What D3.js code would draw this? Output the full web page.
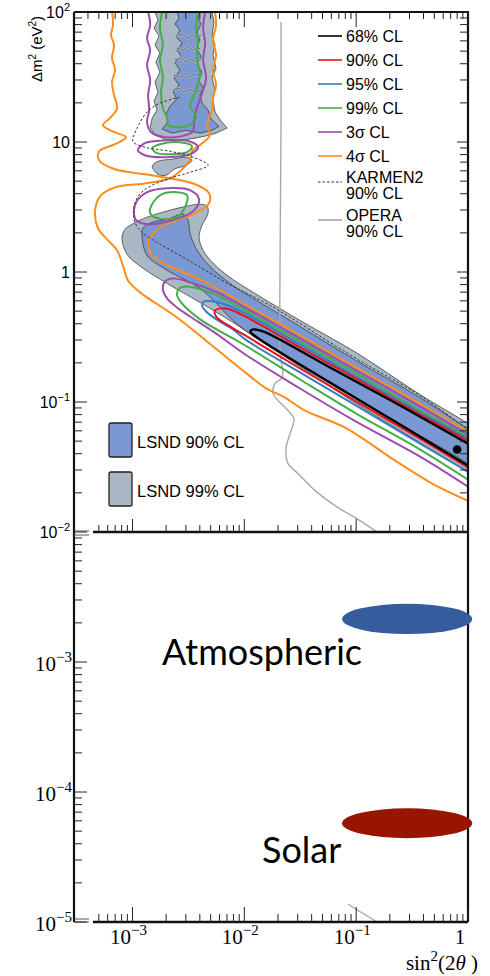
<!DOCTYPE html>
<html>
<head>
<meta charset="utf-8">
<script src="https://cdn.jsdelivr.net/npm/d3@7"></script>
<style>
  html, body { margin: 0; padding: 0; background: #fff; }
  svg { display: block; }
</style>
</head>
<body>
<svg id="chart" width="490" height="976"></svg>
<script>
// ---------- allowed regions and exclusion contours, [sin^2(2θ), Δm^2 (eV^2)] ----------
const lsnd99Upper = [[1.59e-3,100],[1.69e-3,86.7],[1.56e-3,75.4],[1.73e-3,65.3],[1.59e-3,55.7],[1.76e-3,48.3],[1.62e-3,41.2],[1.76e-3,34.5],[1.59e-3,28.9],[1.69e-3,24.2],[1.56e-3,20.6],[1.66e-3,17.6],[1.50e-3,15.3],[1.44e-3,13.0],[1.59e-3,11.3],[1.95e-3,10.5],[2.66e-3,10.3],[3.63e-3,10.7],[4.46e-3,11.1],[5.59e-3,11.7],[7.02e-3,12.8],[6.19e-3,14.5],[5.47e-3,17.0],[5.25e-3,21.0],[5.47e-3,25.1],[5.15e-3,31.0],[5.59e-3,37.1],[5.25e-3,46.7],[5.47e-3,55.7],[5.15e-3,66.5],[5.36e-3,83.8],[5.15e-3,100]];
const lsnd99Island = [[1.50e-3,6.51],[1.69e-3,7.11],[2.26e-3,7.37],[3.01e-3,7.64],[3.41e-3,7.24],[3.01e-3,6.63],[2.35e-3,6.17],[2.00e-3,5.55],[1.69e-3,5.65]];
const lsnd99Lower = [[8.05e-4,1.81],[8.57e-4,2.13],[1.03e-3,2.37],[1.35e-3,2.64],[2.17e-3,2.99],[3.01e-3,3.20],[4.02e-3,3.32],[4.65e-3,3.20],[4.74e-3,2.83],[4.19e-3,2.29],[3.94e-3,1.85],[4.28e-3,1.47],[5.36e-3,1.15],[7.45e-3,0.908],[1.02e-2,0.761],[3.15e-2,0.424],[0.1,0.240],[0.373,0.114],[1,0.0682],[1.3,0.058],[1.3,0.024],[1,0.0286],[0.373,0.0487],[0.1,0.0973],[3.15e-2,0.187],[1.38e-2,0.297],[7.93e-3,0.409],[4.02e-3,0.583],[2.04e-3,0.817],[1.24e-3,1.07],[8.93e-4,1.37]];

const lsnd90Upper = [[2.50e-3,100],[2.61e-3,89.9],[2.40e-3,80.8],[2.66e-3,72.6],[2.45e-3,64.2],[2.77e-3,57.7],[2.50e-3,50.9],[2.72e-3,45.8],[2.40e-3,40.5],[2.66e-3,35.7],[2.35e-3,31.0],[2.61e-3,27.4],[2.31e-3,24.2],[2.50e-3,21.4],[2.17e-3,18.9],[2.00e-3,16.4],[2.08e-3,14.2],[1.84e-3,12.6],[2.26e-3,11.7],[3.01e-3,12.3],[4.02e-3,11.7],[5.15e-3,12.3],[5.94e-3,13.2],[5.04e-3,15.0],[4.74e-3,17.6],[4.19e-3,19.9],[4.02e-3,23.0],[4.28e-3,26.4],[3.86e-3,29.9],[4.19e-3,34.5],[3.78e-3,39.7],[4.10e-3,45.8],[3.70e-3,52.8],[4.02e-3,60.8],[3.78e-3,70.2],[4.10e-3,80.8],[3.86e-3,89.9],[4.02e-3,100]];
const lsnd90Lower = [[1.22e-3,1.85],[1.24e-3,2.17],[1.50e-3,2.41],[2.04e-3,2.54],[2.83e-3,2.78],[3.14e-3,2.50],[3.27e-3,1.98],[3.78e-3,1.47],[4.94e-3,1.10],[7.45e-3,0.817],[1.02e-2,0.684],[3.15e-2,0.381],[0.1,0.208],[0.373,0.108],[1,0.0624],[1.3,0.055],[1.3,0.028],[1,0.0336],[0.373,0.0551],[0.1,0.106],[3.15e-2,0.191],[1.25e-2,0.313],[1.08e-2,0.343],[7.93e-3,0.424],[4.02e-3,0.748],[2.04e-3,1.03],[1.35e-3,1.34]];

// narrow 99% gaps crossing the 90% region at high Δm^2
const lsndGaps = [
  [[2.45e-3,65.3],[2.77e-3,67.7],[3.08e-3,63.1],[3.41e-3,66.5],[3.78e-3,63.1],[4.10e-3,66.5]],
  [[2.50e-3,52.8],[2.83e-3,50.9],[3.14e-3,54.7],[3.48e-3,50.9],[3.86e-3,53.7],[4.02e-3,51.9]],
  [[2.40e-3,42.7],[2.72e-3,44.3],[3.01e-3,41.2],[3.34e-3,43.5],[3.70e-3,41.2],[4.10e-3,43.5]],
  [[2.35e-3,32.7],[2.66e-3,31.6],[2.95e-3,33.9],[3.27e-3,31.6],[3.63e-3,33.3],[4.19e-3,32.1]],
  [[2.31e-3,25.1],[2.61e-3,25.9],[2.89e-3,24.2],[3.27e-3,25.5],[3.63e-3,24.2],[4.28e-3,25.5]]
];

const cl4sigmaA = [[6.56e-4,100],[6.70e-4,79.4],[6.43e-4,66.5],[6.84e-4,55.7],[6.56e-4,44.3],[6.98e-4,35.7],[6.56e-4,28.9],[6.84e-4,23.0],[7.28e-4,18.2],[6.30e-4,15.3],[5.45e-4,13.5],[6.56e-4,12.1],[8.75e-4,10.9],[6.98e-4,9.62],[5.03e-4,8.49],[5.03e-4,7.24],[6.98e-4,6.17],[1.29e-3,5.65],[2.17e-3,5.26],[3.63e-3,4.73],[4.84e-3,4.04],[4.84e-3,3.38],[3.63e-3,2.83],[2.31e-3,2.45],[1.62e-3,2.09],[1.38e-3,1.66],[1.50e-3,1.34],[2.08e-3,1.12],[4.02e-3,0.877],[1.02e-2,0.562],[3.15e-2,0.325],[0.1,0.184],[0.373,0.0973],[1,0.0592]];
const cl4sigmaB = [[5.47e-3,100],[5.59e-3,79.4],[5.25e-3,60.8],[5.59e-3,46.7],[5.25e-3,35.7],[5.59e-3,27.4],[5.25e-3,21.7],[5.15e-3,17.6],[4.65e-3,13.7],[4.94e-3,11.3],[4.10e-3,9.62],[3.41e-3,8.49],[3.27e-3,7.24],[2.72e-3,6.07],[2.17e-3,5.26],[1.35e-3,4.82],[6.98e-4,4.48],[5.13e-4,3.82],[4.62e-4,2.88],[4.92e-4,2.17],[6.04e-4,1.75],[7.28e-4,1.47],[8.22e-4,1.12],[9.12e-4,0.861],[1.17e-3,0.697],[2.50e-3,0.447],[5.70e-3,0.253],[1.02e-2,0.169],[1.53e-2,0.129],[2.31e-2,0.108],[3.49e-2,0.0859],[7.96e-2,0.0635],[0.223,0.0354],[0.478,0.0236],[1,0.0174]];

const cl3sigmaStrip = [[1.38e-3,100],[1.44e-3,79.4],[1.35e-3,63.1],[1.44e-3,50.9],[1.35e-3,39.1],[1.44e-3,29.9],[1.38e-3,23.0],[1.41e-3,17.6],[1.35e-3,14.2],[1.47e-3,11.9],[1.95e-3,10.9],[2.77e-3,11.1],[3.48e-3,12.1],[3.55e-3,14.7],[3.78e-3,18.5],[4.19e-3,23.8],[4.55e-3,31.0],[4.28e-3,42.7],[4.46e-3,57.7],[4.28e-3,75.4],[4.46e-3,100]];
const cl3sigmaRing1 = [[1.12e-3,8.65],[1.29e-3,9.79],[1.95e-3,10.3],[3.27e-3,10.1],[3.86e-3,9.12],[3.27e-3,8.06],[2.04e-3,7.64],[1.29e-3,7.91]];
const cl3sigmaRing2 = [[1.03e-3,2.88],[1.08e-3,3.44],[1.35e-3,4.11],[2.04e-3,4.41],[3.27e-3,4.26],[3.94e-3,3.62],[3.48e-3,2.93],[2.26e-3,2.50],[1.38e-3,2.33],[1.08e-3,2.50]];
const cl3sigmaBand = [[1,0.0561],[0.373,0.0923],[0.1,0.175],[3.15e-2,0.308],[1.02e-2,0.533],[5.70e-3,0.697],[3.27e-3,0.832],[2.31e-3,0.893],[1.95e-3,0.847],[1.87e-3,0.735],[2.04e-3,0.627],[2.50e-3,0.533],[3.27e-3,0.455],[5.25e-3,0.349],[1.02e-2,0.232],[3.15e-2,0.127],[0.1,0.0706],[0.373,0.0380],[1,0.0223]];

const cl99Strip = [[1.84e-3,100],[1.76e-3,75.4],[1.87e-3,55.7],[1.76e-3,42.7],[1.87e-3,31.6],[1.80e-3,24.2],[1.87e-3,18.2],[2.04e-3,15.3],[2.08e-3,13.5],[2.66e-3,13.0],[3.34e-3,13.7],[3.70e-3,15.8],[3.27e-3,18.9],[3.63e-3,23.8],[4.02e-3,32.7],[3.78e-3,44.3],[3.86e-3,57.7],[3.70e-3,75.4],[3.86e-3,100]];
const cl99Ring1 = [[1.50e-3,8.96],[1.76e-3,9.62],[2.66e-3,9.96],[3.41e-3,9.28],[3.08e-3,8.34],[2.17e-3,8.06],[1.66e-3,8.20]];
const cl99Ring2 = [[1.44e-3,3.09],[1.76e-3,3.89],[2.50e-3,4.11],[3.08e-3,3.89],[2.95e-3,3.15],[2.50e-3,2.64],[1.66e-3,2.59],[1.44e-3,2.83]];
const cl99Band = [[1,0.0541],[0.373,0.0859],[0.1,0.166],[3.15e-2,0.292],[1.02e-2,0.506],[5.70e-3,0.661],[3.08e-3,0.775],[2.61e-3,0.748],[2.50e-3,0.671],[2.72e-3,0.583],[4.02e-3,0.432],[7.93e-3,0.308],[1.02e-2,0.272],[3.15e-2,0.149],[0.1,0.0815],[0.373,0.0431],[1,0.0253]];

const cl95Band = [[1,0.0522],[0.373,0.0828],[0.1,0.157],[3.15e-2,0.277],[1.02e-2,0.480],[7.14e-3,0.553],[5.25e-3,0.594],[4.37e-3,0.594],[4.19e-3,0.553],[4.55e-3,0.497],[5.82e-3,0.424],[7.93e-3,0.362],[1.02e-2,0.303],[3.15e-2,0.169],[0.1,0.0938],[0.373,0.0478],[1,0.0291]];
const cl90Band = [[1,0.0504],[0.373,0.0800],[0.1,0.151],[3.15e-2,0.263],[1.02e-2,0.455],[7.45e-3,0.515],[6.19e-3,0.525],[5.47e-3,0.506],[5.59e-3,0.455],[6.73e-3,0.402],[1.02e-2,0.325],[3.15e-2,0.181],[0.1,0.101],[0.373,0.0522],[1,0.0313]];
const cl68Band = [[1,0.0478],[0.247,0.0938],[5.84e-2,0.184],[1.47e-2,0.349],[1.20e-2,0.362],[1.13e-2,0.349],[1.20e-2,0.330],[1.38e-2,0.303],[3.15e-2,0.194],[5.84e-2,0.141],[0.247,0.0670],[1,0.0324]];

const karmen2 = [[2.66e-3,22.1],[1.76e-3,19.9],[1.35e-3,17.0],[1.10e-3,12.8],[1.01e-3,10.1],[1.29e-3,9.12],[2.17e-3,8.49],[3.48e-3,7.64],[4.74e-3,6.63],[3.27e-3,5.85],[2.17e-3,5.26],[1.44e-3,4.57],[1.14e-3,3.89],[1.03e-3,3.15],[1.05e-3,2.41],[1.22e-3,2.02],[1.50e-3,1.78],[2.83e-3,1.30],[7.93e-3,0.775],[1.70e-2,0.553],[0.1,0.216],[0.373,0.112],[1,0.0613]];

const opera = [[2.13e-2,83.8],[2.13e-2,14.7],[2.09e-2,1.47],[2.09e-2,0.249],[2.18e-2,0.154],[1.88e-2,0.139],[1.81e-2,0.116],[2.46e-2,0.0859],[2.78e-2,0.0745],[2.56e-2,0.0571],[2.36e-2,0.0438],[2.46e-2,0.0336],[3.03e-2,0.0281],[4.30e-2,0.0208],[6.89e-2,0.0154],[9.80e-2,0.0129],[0.154,0.01]];
const operaLow = [[0.0847,1.37e-5],[0.154,1e-5]];

const bestFit = [0.80, 0.0431];

// atmospheric and solar oscillation regions: [sin^2 min, sin^2 max], [Δm^2 min, Δm^2 max]
const atmSin = [0.0748, 1.09], atmDm = [1.64e-3, 2.80e-3];
const solSin = [0.0748, 1.09], solDm = [4.41e-5, 7.50e-5];

// axis labels
const yLabelsTop = [[100,"10","2"],[10,"10",""],[1,"1",""],[0.1,"10","\u22121"],[0.01,"10","\u22122"]];
const yLabelsBottom = [[1e-3,"10","\u22123"],[1e-4,"10","\u22124"],[1e-5,"10","\u22125"]];
const xLabels = [[1e-3,"10","\u22123"],[1e-2,"10","\u22122"],[1e-1,"10","\u22121"],[1,"1",""]];

// legend entries
const legendLabels = [["68% CL"],["90% CL"],["95% CL"],["99% CL"],["3\u03c3 CL"],["4\u03c3 CL"],["KARMEN2","90% CL"],["OPERA","90% CL"]];
const legendColors = ["#000000","#e8141b","#3a7cc2","#43ae48","#9b4dad","#ff8c1a","#333333","#a8a8a8"];
const legendRowY = [36,60,84,108,132,156,182,220];

// ---------- drawing ----------
const COL = {grey:"#a9b8c4", blue:"#7b98d2", edge:"#2e2e2e"};
const svg = d3.select("#chart");
const x = d3.scaleLog().domain([3e-4, 1]).range([74, 468]);
const y = d3.scaleLog().domain([1e-5, 100]).range([922, 12]);
const X0 = 74, X1 = 468, YT = 12, YM = 532, YB = 922;

const defs = svg.append("defs");
defs.append("clipPath").attr("id","clipTop").append("rect")
  .attr("x",X0).attr("y",YT).attr("width",X1-X0).attr("height",YM-YT);
defs.append("clipPath").attr("id","clipBot").append("rect")
  .attr("x",X0).attr("y",YM).attr("width",X1-X0).attr("height",YB-YM);

const px = d => x(d[0]), py = d => y(d[1]);
const smooth = d3.line().x(px).y(py).curve(d3.curveCatmullRom.alpha(0.5));
const smoothClosed = d3.line().x(px).y(py).curve(d3.curveCatmullRomClosed.alpha(0.5));
const jagged = d3.line().x(px).y(py).curve(d3.curveLinear);
const jaggedClosed = d3.line().x(px).y(py).curve(d3.curveLinearClosed);

const topG = svg.append("g").attr("clip-path","url(#clipTop)");

// LSND 99% region
topG.append("path").attr("d", jaggedClosed(lsnd99Upper)).attr("fill",COL.grey).attr("stroke",COL.edge).attr("stroke-width",0.7);
topG.append("path").attr("d", smoothClosed(lsnd99Island)).attr("fill",COL.grey).attr("stroke",COL.edge).attr("stroke-width",0.7);
topG.append("path").attr("d", smoothClosed(lsnd99Lower)).attr("fill",COL.grey).attr("stroke",COL.edge).attr("stroke-width",0.7);
// LSND 90% region
topG.append("path").attr("d", jaggedClosed(lsnd90Upper)).attr("fill",COL.blue).attr("stroke",COL.edge).attr("stroke-width",0.7);
topG.append("path").attr("d", smoothClosed(lsnd90Lower)).attr("fill",COL.blue).attr("stroke",COL.edge).attr("stroke-width",0.7);
lsndGaps.forEach(g => {
  topG.append("path").attr("d", jagged(g)).attr("fill","none").attr("stroke",COL.grey).attr("stroke-width",2.6);
  topG.append("path").attr("d", jagged(g)).attr("fill","none").attr("stroke",COL.edge).attr("stroke-width",0.6);
});

// OPERA limit
topG.append("path").attr("d", smooth(opera)).attr("fill","none").attr("stroke","#a8a8a8").attr("stroke-width",1.4);

// exclusion / allowed contours
const contour = (data, color, closed, w) => topG.append("path")
  .attr("d", closed ? smoothClosed(data) : smooth(data))
  .attr("fill","none").attr("stroke",color).attr("stroke-width",w || 2)
  .attr("stroke-linejoin","round");

contour(cl4sigmaA, legendColors[5]);
contour(cl4sigmaB, legendColors[5]);
contour(cl3sigmaStrip, legendColors[4]);
contour(cl3sigmaRing1, legendColors[4], true);
contour(cl3sigmaRing2, legendColors[4], true);
contour(cl3sigmaBand, legendColors[4]);
contour(cl99Strip, legendColors[3]);
contour(cl99Ring1, legendColors[3], true);
contour(cl99Ring2, legendColors[3], true);
contour(cl99Band, legendColors[3]);
contour(cl95Band, legendColors[2]);
contour(cl90Band, legendColors[1]);
contour(cl68Band, legendColors[0], false, 2.3);

topG.append("path").attr("d", smooth(karmen2)).attr("fill","none")
  .attr("stroke","#333").attr("stroke-width",1).attr("stroke-dasharray","2.5,2");

topG.append("circle").attr("cx", x(bestFit[0])).attr("cy", y(bestFit[1])).attr("r",4.3).attr("fill","#000");

// bottom panel
const botG = svg.append("g").attr("clip-path","url(#clipBot)");
botG.append("path").attr("d", jagged(operaLow)).attr("fill","none").attr("stroke","#a8a8a8").attr("stroke-width",1.4);

// ---------- frame and ticks ----------
const ink = "#111";
const isMajor = v => Math.abs(Math.log10(v) - Math.round(Math.log10(v))) < 1e-6;
const yTicks = y.ticks();
const xTicks = x.ticks();

const frame = svg.append("g").attr("stroke",ink).attr("fill","none");
frame.append("line").attr("x1",X0).attr("x2",X0).attr("y1",YT).attr("y2",YB).attr("stroke-width",2.2);
frame.append("line").attr("x1",X0).attr("x2",X1+1).attr("y1",YT).attr("y2",YT).attr("stroke-width",2);
frame.append("line").attr("x1",X1).attr("x2",X1).attr("y1",YT).attr("y2",YB).attr("stroke-width",2.2);
frame.append("line").attr("x1",93).attr("x2",X1).attr("y1",YM).attr("y2",YM).attr("stroke-width",2.6);
frame.append("line").attr("x1",93).attr("x2",X1).attr("y1",YB).attr("y2",YB).attr("stroke-width",2.6);
[[YM-1, 0.9],[YM+3, 0.9],[YB-3,0.9],[YB,0.9]].forEach(([yy,w]) =>
  frame.append("line").attr("x1",X0).attr("x2",89).attr("y1",yy).attr("y2",yy).attr("stroke-width",w).attr("stroke","#444"));

const tickG = svg.append("g").attr("stroke","#222").attr("stroke-width",1);
tickG.selectAll(null).data(yTicks).join("line")
  .attr("x1",X0).attr("x2",d => X0 + (isMajor(d) ? 13 : 8))
  .attr("y1",d=>y(d)).attr("y2",d=>y(d));
tickG.selectAll(null).data(yTicks.filter(d => d >= 0.01)).join("line")
  .attr("x1",X1).attr("x2",d => X1 - (isMajor(d) ? 11 : 8))
  .attr("y1",d=>y(d)).attr("y2",d=>y(d));
tickG.selectAll(null).data(xTicks).join("line")
  .attr("x1",d=>x(d)).attr("x2",d=>x(d))
  .attr("y1",YT).attr("y2",d => YT + (isMajor(d) ? 15 : 7));
tickG.selectAll(null).data(xTicks.filter(d => x(d) > 93)).join("line")
  .attr("x1",d=>x(d)).attr("x2",d=>x(d))
  .attr("y1",YM).attr("y2",d => YM - (isMajor(d) ? 13 : 7));
tickG.selectAll(null).data(xTicks.filter(d => x(d) > 93)).join("line")
  .attr("x1",d=>x(d)).attr("x2",d=>x(d))
  .attr("y1",YB).attr("y2",d => YB - (isMajor(d) ? 15 : 8));

// ---------- tick labels ----------
const sans = "'Liberation Sans', Arial, Helvetica, sans-serif";
const serif = "'Liberation Serif', 'Times New Roman', serif";

yLabelsTop.forEach(([v, base, sup]) => {
  const t = svg.append("text").attr("x",70).attr("y",y(v)+6)
    .attr("text-anchor","end").attr("font-family",sans).attr("font-size",16).attr("fill","#000");
  t.append("tspan").text(base);
  if (sup) t.append("tspan").attr("dy",-7).attr("font-size",11).text(sup);
});
yLabelsBottom.forEach(([v, base, sup]) => {
  const t = svg.append("text").attr("x",72).attr("y",y(v)+9)
    .attr("text-anchor","end").attr("font-family",serif).attr("font-size",21).attr("fill","#000");
  t.append("tspan").text(base);
  if (sup) t.append("tspan").attr("dy",-9).attr("font-size",15).text(sup);
});
xLabels.forEach(([v, base, sup]) => {
  const t = svg.append("text").attr("x",x(v) - (sup ? 4 : 8)).attr("y",944)
    .attr("text-anchor","middle").attr("font-family",serif).attr("font-size",21).attr("fill","#000");
  t.append("tspan").text(base);
  if (sup) t.append("tspan").attr("dy",-9).attr("font-size",15).text(sup);
});

const xt = svg.append("text").attr("x",478).attr("y",970).attr("text-anchor","end")
  .attr("font-family",serif).attr("font-size",21).attr("fill","#000");
xt.append("tspan").text("sin");
xt.append("tspan").attr("dy",-9).attr("font-size",15).text("2");
xt.append("tspan").attr("dy",9).text("(2");
xt.append("tspan").attr("font-style","italic").text("\u03b8");
xt.append("tspan").text(" )");

const yt = svg.append("text").attr("transform","translate(42,49) rotate(-90)")
  .attr("text-anchor","middle").attr("font-family",sans).attr("font-size",15).attr("fill","#000");
yt.append("tspan").text("\u0394m");
yt.append("tspan").attr("dy",-6).attr("font-size",10).text("2");
yt.append("tspan").attr("dy",6).text(" (eV");
yt.append("tspan").attr("dy",-6).attr("font-size",10).text("2");
yt.append("tspan").attr("dy",6).text(")");

// ---------- legends ----------
const leg = svg.append("g");
legendLabels.forEach((lines, i) => {
  const ly = legendRowY[i];
  const ln = leg.append("line").attr("x1",318).attr("x2",342).attr("y1",ly).attr("y2",ly)
    .attr("stroke",legendColors[i]).attr("stroke-width",1.6);
  if (i === 6) ln.attr("stroke-dasharray","2.5,2").attr("stroke-width",1);
  lines.forEach((s, j) => {
    const base = lines.length === 1 ? ly + 6 : ly + 1 + j * 16;
    leg.append("text").attr("x",346).attr("y",base).attr("font-family",sans)
      .attr("font-size",16).attr("fill","#000").text(s);
  });
});

const lsndLegend = [["LSND 90% CL", COL.blue, 423], ["LSND 99% CL", COL.grey, 472]];
lsndLegend.forEach(([label, fill, top]) => {
  svg.append("rect").attr("x",109).attr("y",top).attr("width",23).attr("height",34).attr("rx",2)
    .attr("fill",fill).attr("stroke","#222").attr("stroke-width",1.3);
  svg.append("text").attr("x",137).attr("y",top+25).attr("font-family",sans).attr("font-size",16.5)
    .attr("fill","#000").text(label);
});

// ---------- atmospheric and solar regions ----------
const region = (sinR, dmR, color) => {
  const cx = (x(sinR[0]) + x(sinR[1])) / 2, rx = (x(sinR[1]) - x(sinR[0])) / 2;
  const cy = (y(dmR[0]) + y(dmR[1])) / 2, ry = (y(dmR[0]) - y(dmR[1])) / 2;
  svg.append("ellipse").attr("cx",cx).attr("cy",cy).attr("rx",rx).attr("ry",ry).attr("fill",color);
};
region(atmSin, atmDm, "#355c9d");
region(solSin, solDm, "#981500");

svg.append("text").attr("x",162).attr("y",665).attr("font-family","Lato, 'Open Sans', sans-serif")
  .attr("font-size",36).attr("fill","#000").text("Atmospheric");
svg.append("text").attr("x",262).attr("y",863).attr("font-family","Lato, 'Open Sans', sans-serif")
  .attr("font-size",36).attr("fill","#000").text("Solar");
</script>
</body>
</html>
